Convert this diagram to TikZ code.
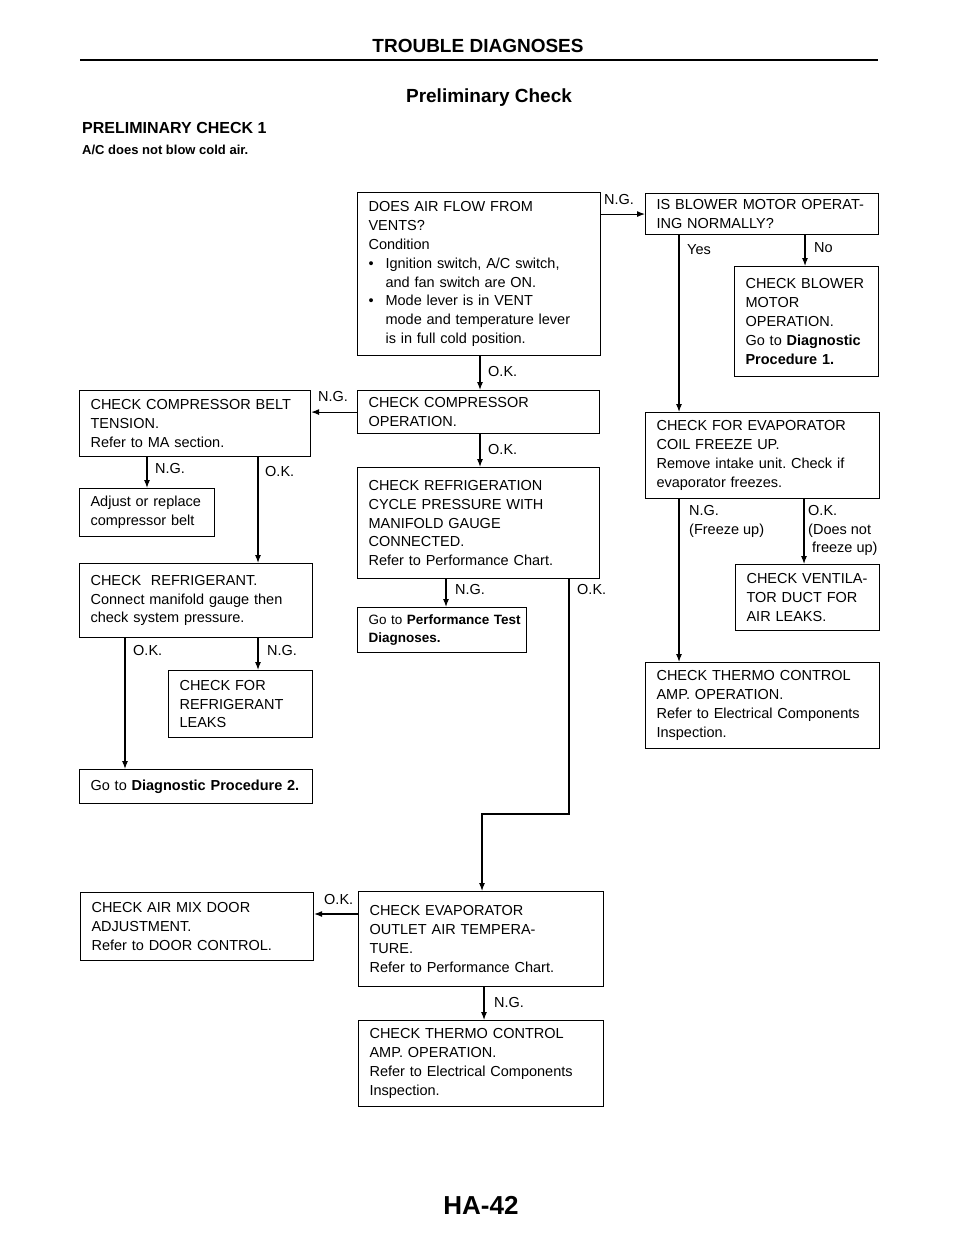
\documentclass[tikz,border=0pt]{standalone}
\usepackage{fontspec}
\setmainfont{Liberation Sans}
\usetikzlibrary{arrows.meta}
\frenchspacing

\newcommand{\boxfont}{\fontsize{14.5}{18.8}\selectfont}
\newcommand{\bul}{\makebox[17pt][l]{\textbullet}}

\tikzset{
  stepbox/.style={draw, line width=1.1pt, anchor=north west, align=left,
    inner xsep=11pt, inner ysep=2pt, font=\boxfont},
  flow/.style={line width=1.1pt, -{Latex[length=8pt,width=6pt]}},
  lbl/.style={anchor=west, inner sep=0pt, font=\boxfont},
}

\begin{document}
\begin{tikzpicture}[x=1pt,y=-1pt]
  \useasboundingbox (0,0) rectangle (960,1242);

  % page heading
  \node[font=\bfseries\fontsize{19}{21}\selectfont] (title) at (478,46) {TROUBLE DIAGNOSES};
  \draw[line width=2pt] (80,60) -- (878,60);
  \node[font=\bfseries\fontsize{19}{22}\selectfont] (sub) at (489,98) {Preliminary Check};
  \node[anchor=west, inner sep=0pt, font=\bfseries\fontsize{16}{18}\selectfont] (chk) at (82,128) {PRELIMINARY CHECK 1};
  \node[anchor=west, inner sep=0pt, font=\bfseries\fontsize{13}{15}\selectfont] (symp) at (82,150) {A/C does not blow cold air.};

  % middle column
  \node[stepbox, text width=221pt, minimum height=163pt] (vents) at (357,192)
    {DOES AIR FLOW FROM\\ VENTS?\\ Condition\\
     \bul Ignition switch, A/C switch,\\ \hspace*{17pt}and fan switch are ON.\\
     \bul Mode lever is in VENT\\ \hspace*{17pt}mode and temperature lever\\
     \hspace*{17pt}is in full cold position.};
  \node[stepbox, text width=220pt, minimum height=43pt] (cmp) at (357,390)
    {CHECK COMPRESSOR\\ OPERATION.};
  \node[stepbox, text width=220pt, minimum height=111pt] (refrg) at (357,467)
    {CHECK REFRIGERATION\\ CYCLE PRESSURE WITH\\ MANIFOLD GAUGE\\ CONNECTED.\\ Refer to Performance Chart.};
  \node[stepbox, text width=147pt, minimum height=45pt, font=\fontsize{13.5}{18.5}\selectfont] (perf) at (357,607)
    {\mbox{Go to \textbf{Performance Test}}\\ \textbf{Diagnoses.}};
  \node[stepbox, text width=223pt, minimum height=95pt] (evout) at (358,891)
    {CHECK EVAPORATOR\\ OUTLET AIR TEMPERA-\\ TURE.\\ Refer to Performance Chart.};
  \node[stepbox, text width=223pt, minimum height=86pt] (thermo) at (358,1020)
    {CHECK THERMO CONTROL\\ AMP. OPERATION.\\ Refer to Electrical Components\\ Inspection.};

  % right column
  \node[stepbox, text width=211pt, minimum height=41pt] (blower) at (645,193)
    {IS BLOWER MOTOR OPERAT-\\ ING NORMALLY?};
  \node[stepbox, text width=122pt, minimum height=110pt] (blowchk) at (734,266)
    {CHECK BLOWER\\ MOTOR\\ OPERATION.\\ Go to \textbf{Diagnostic}\\ \textbf{Procedure 1.}};
  \node[stepbox, text width=212pt, minimum height=86pt] (evap) at (645,412)
    {CHECK FOR EVAPORATOR\\ COIL FREEZE UP.\\ Remove intake unit. Check if\\ evaporator freezes.};
  \node[stepbox, text width=122pt, minimum height=66pt] (duct) at (735,564)
    {CHECK VENTILA-\\ TOR DUCT FOR\\ AIR LEAKS.};
  \node[stepbox, text width=212pt, minimum height=86pt] (thermob) at (645,662)
    {CHECK THERMO CONTROL\\ AMP. OPERATION.\\ Refer to Electrical Components\\ Inspection.};

  % left column
  \node[stepbox, text width=209pt, minimum height=66pt] (belt) at (79,390)
    {CHECK COMPRESSOR BELT\\ TENSION.\\ Refer to MA section.};
  \node[stepbox, text width=113pt, minimum height=48pt] (adjust) at (79,488)
    {Adjust or replace\\ compressor belt};
  \node[stepbox, text width=211pt, minimum height=74pt] (refrnt) at (79,563)
    {CHECK\ \ REFRIGERANT.\\ Connect manifold gauge then\\ check system pressure.};
  \node[stepbox, text width=122pt, minimum height=67pt] (leaks) at (168,670)
    {CHECK FOR\\ REFRIGERANT\\ LEAKS};
  \node[stepbox, text width=211pt, minimum height=34pt] (diag) at (79,769)
    {Go to \textbf{Diagnostic Procedure 2.}};
  \node[stepbox, text width=211pt, minimum height=68pt] (airmix) at (80,892)
    {CHECK AIR MIX DOOR\\ ADJUSTMENT.\\ Refer to DOOR CONTROL.};

  % connectors
  \draw[flow] (vents.east |- blower.west) -- (blower.west);
  \draw[flow] ([xshift=34pt]blower.south west) -- ([xshift=34pt]evap.north west);
  \draw[flow] ([xshift=160pt]blower.south west) -- ([xshift=71pt]blowchk.north west);
  \draw[flow] ([xshift=34pt]evap.south west) -- ([xshift=34pt]thermob.north west);
  \draw[flow] ([xshift=159pt]evap.south west) -- ([xshift=69pt]duct.north west);
  \draw[flow] ([xshift=123pt]vents.south west) -- ([xshift=123pt]cmp.north west);
  \draw[flow] (cmp.west) -- (cmp.west -| belt.east);
  \draw[flow] ([xshift=123pt]cmp.south west) -- ([xshift=123pt]refrg.north west);
  \draw[flow] ([xshift=89pt]refrg.south west) -- ([xshift=89pt]perf.north west);
  \draw[flow] ([xshift=212pt]refrg.south west) |- ([xshift=124pt,yshift=77pt]evout.north west)
    -- ([xshift=124pt]evout.north west);
  \draw[flow] ([xshift=68pt]belt.south west) -- ([xshift=68pt]adjust.north west);
  \draw[flow] ([xshift=179pt]belt.south west) -- ([xshift=179pt]refrnt.north west);
  \draw[flow] ([xshift=46pt]refrnt.south west) -- ([xshift=46pt]diag.north west);
  \draw[flow] ([xshift=179pt]refrnt.south west) -- ([xshift=90pt]leaks.north west);
  \coordinate (okout) at ([yshift=-23pt]evout.north west);
  \draw[flow] (okout) -- (okout -| airmix.east);
  \draw[flow] ([xshift=126pt]evout.south west) -- ([xshift=126pt]thermo.north west);

  % connector labels
  \node[lbl] (l1) at (604,200) {N.G.};
  \node[lbl] (l2) at (687,250) {Yes};
  \node[lbl] (l3) at (814,248) {No};
  \node[lbl, anchor=north west, align=left] (l4) at (689,505) {N.G.\\ (Freeze up)};
  \node[lbl, anchor=north west, align=left] (l5) at (808,505) {O.K.\\ (Does not\\ \hspace*{4pt}freeze up)};
  \node[lbl] (l6) at (488,372) {O.K.};
  \node[lbl] (l7) at (318,397) {N.G.};
  \node[lbl] (l8) at (488,450) {O.K.};
  \node[lbl] (l9) at (455,590) {N.G.};
  \node[lbl] (l10) at (577,590) {O.K.};
  \node[lbl] (l11) at (155,469) {N.G.};
  \node[lbl] (l12) at (265,472) {O.K.};
  \node[lbl] (l13) at (133,650) {O.K.};
  \node[lbl] (l14) at (267,650) {N.G.};
  \node[lbl] (l15) at (324,899) {O.K.};
  \node[lbl] (l16) at (494,1002) {N.G.};

  % page number
  \node[font=\bfseries\fontsize{26}{28}\selectfont] (pg) at (481,1205) {HA-42};
\end{tikzpicture}
\end{document}
